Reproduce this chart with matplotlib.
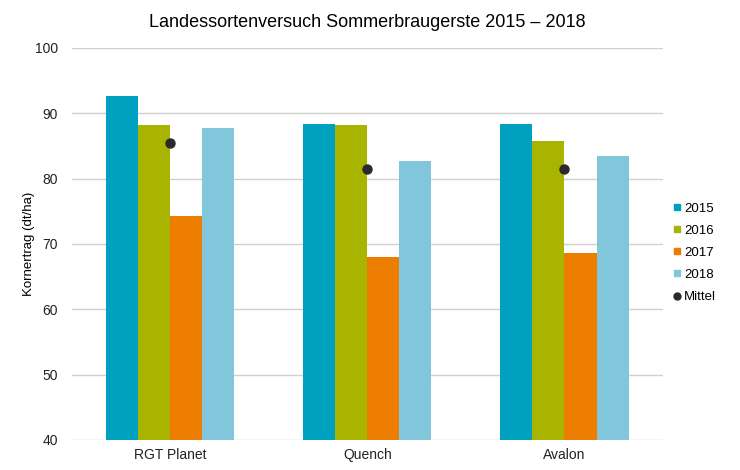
import numpy as np
import matplotlib.pyplot as plt
from matplotlib.lines import Line2D

plt.rcParams['font.family'] = ['Liberation Sans', 'DejaVu Sans']

sorten = ['RGT Planet', 'Quench', 'Avalon']
jahre = ['2015', '2016', '2017', '2018']
ertrag_2015 = [92.7, 88.4, 88.4]
ertrag_2016 = [88.2, 88.2, 85.7]
ertrag_2017 = [74.3, 68.0, 68.6]
ertrag_2018 = [87.8, 82.7, 83.5]
mittel = [85.5, 81.4, 81.4]

farben = ['#00A0C1', '#A9B400', '#EC7D00', '#82C6DC']
serien = [ertrag_2015, ertrag_2016, ertrag_2017, ertrag_2018]

fig = plt.figure(figsize=(7.4, 4.7), dpi=100)
ax = fig.add_axes([0.097, 0.064, 0.799, 0.834])

x = np.arange(len(sorten))
w = 0.1625
for i, (werte, farbe) in enumerate(zip(serien, farben)):
    ax.bar(x + (i - 1.5) * w, werte, width=w, color=farbe, zorder=2,
           label=jahre[i])
ax.plot(x, mittel, 'o', color='#2a2a2a', ms=6.5, zorder=3, label='Mittel')

ax.set_ylim(40, 100)
ax.set_xlim(-0.5, 2.5)
ax.set_yticks(range(40, 101, 10))
ax.set_xticks(x)
ax.set_xticklabels(sorten)
ax.grid(axis='y', color='#d0d0d0', lw=1, zorder=0)
for s in ax.spines.values():
    s.set_visible(False)
ax.tick_params(length=0, labelsize=10, colors='#222222')
ax.tick_params(axis='y', pad=10)
ax.tick_params(axis='x', pad=6)
ax.set_ylabel('Kornertrag (dt/ha)', fontsize=9.5)
ax.yaxis.set_label_coords(-0.063, 0.5)

ax.set_title('Landessortenversuch Sommerbraugerste 2015 \u2013 2018',
             fontsize=13, pad=15)

handles = [Line2D([], [], marker='s', ls='', color=f, ms=5) for f in farben]
handles.append(Line2D([], [], marker='o', ls='', color='#2a2a2a', ms=5))
fig.legend(handles, jahre + ['Mittel'], loc='center left',
           bbox_to_anchor=(0.893, 0.462), frameon=False, fontsize=9.5,
           handlelength=0.6, handletextpad=0.25, labelspacing=0.75)

fig.savefig('out.png', dpi=100)
